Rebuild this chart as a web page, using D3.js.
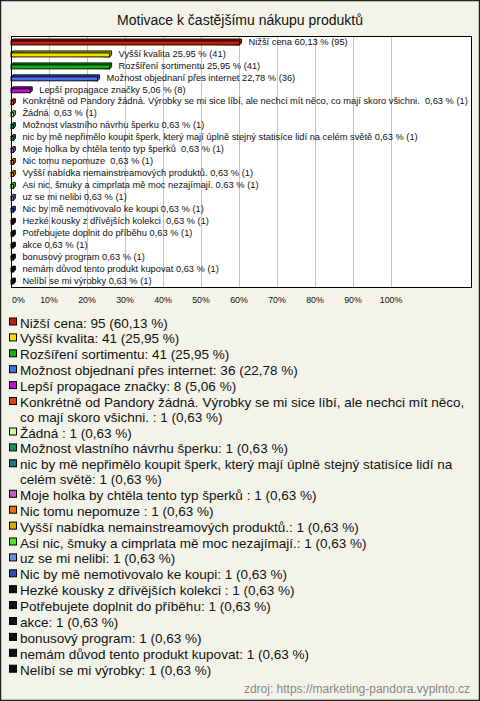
<!DOCTYPE html>
<html>
<head>
<meta charset="utf-8">
<script src="https://cdn.jsdelivr.net/npm/d3@7"></script>
<style>
  body { margin: 0; background: #f4f3ea; }
  text { font-family: "Liberation Sans", Arial, sans-serif; white-space: pre; }
</style>
</head>
<body>
<svg id="chart" width="480" height="701"></svg>
<script>
var categories = [
  "Nižší cena",
  "Vyšší kvalita",
  "Rozšíření sortimentu",
  "Možnost objednaní přes internet",
  "Lepší propagace značky",
  "Konkrétně od Pandory žádná. Výrobky se mi sice líbí, ale nechci mít něco, co mají skoro všichni. ",
  "Žádná ",
  "Možnost vlastního návrhu šperku",
  "nic by mě nepřimělo koupit šperk, který mají úplně stejný statisíce lidí na celém světě",
  "Moje holka by chtěla tento typ šperků ",
  "Nic tomu nepomuze ",
  "Vyšší nabídka nemainstreamových produktů.",
  "Asi nic, šmuky a cimprlata mě moc nezajímají.",
  "uz se mi nelibi",
  "Nic by mě nemotivovalo ke koupi",
  "Hezké kousky z dřívějších kolekci ",
  "Potřebujete doplnit do příběhu",
  "akce",
  "bonusový program",
  "nemám důvod tento produkt kupovat",
  "Nelíbí se mi výrobky"
];
var counts = [95, 41, 41, 36, 8, 1, 1, 1, 1, 1, 1, 1, 1, 1, 1, 1, 1, 1, 1, 1, 1];
var percents = [60.13, 25.95, 25.95, 22.78, 5.06, 0.63, 0.63, 0.63, 0.63, 0.63, 0.63,
                0.63, 0.63, 0.63, 0.63, 0.63, 0.63, 0.63, 0.63, 0.63, 0.63];
var colors = ["#c41e0a", "#f0e000", "#10b010", "#4a6ee8", "#c010d0", "#e04010",
              "#c8f890", "#109060", "#207888", "#c060c0", "#e07010", "#e0a800",
              "#50e030", "#6890e0", "#2850b0", "#111111", "#111111", "#111111",
              "#111111", "#111111", "#111111"];
var ticks = [0, 10, 20, 30, 40, 50, 60, 70, 80, 90, 100];
var title = "Motivace k častějšímu nákupu produktů";
var source = "zdroj: https://marketing-pandora.vyplnto.cz";

var fmt = function(v) { return d3.format(".2f")(v).replace(".", ","); };

var svg = d3.select("#chart");

// background + outer frame
svg.append("rect")
  .attr("x", 0.5).attr("y", 0.5)
  .attr("width", 479).attr("height", 700)
  .attr("fill", "#f4f3ea")
  .attr("stroke", "#222").attr("stroke-width", 1.5);

svg.append("text")
  .attr("x", 240).attr("y", 25)
  .attr("text-anchor", "middle")
  .attr("font-size", 14)
  .attr("fill", "#111")
  .text(title);

var plotTop = 36, plotBottom = 287, plotLeft = 11, plotRight = 471;

var x = d3.scaleLinear().domain([0, 100]).range([plotLeft, 391]);
var y = d3.scaleBand()
  .domain(d3.range(categories.length))
  .range([plotTop, plotBottom]);

svg.append("rect")
  .attr("x", plotLeft).attr("y", plotTop)
  .attr("width", plotRight - plotLeft).attr("height", plotBottom - plotTop)
  .attr("fill", "#fff");

// grid
svg.append("g")
  .selectAll("line")
  .data(ticks.filter(function(t) { return t > 0; }))
  .join("line")
  .attr("x1", function(d) { return x(d) + 0.5; })
  .attr("x2", function(d) { return x(d) + 0.5; })
  .attr("y1", plotTop).attr("y2", plotBottom)
  .attr("stroke", "#c4c4c4");

// tick labels
svg.append("g")
  .selectAll("text")
  .data(ticks)
  .join("text")
  .attr("x", function(d) { return d === 0 ? x(d) + 1 : x(d); })
  .attr("y", 303)
  .attr("text-anchor", function(d) { return d === 0 ? "start" : "middle"; })
  .attr("font-size", 8.8)
  .attr("fill", "#111")
  .text(function(d) { return d + "%"; });

// bars
var rows = categories.map(function(c, i) {
  return { name: c, count: counts[i], pct: percents[i], color: colors[i], i: i };
});

var bars = svg.append("g").selectAll("g")
  .data(rows)
  .join("g");

bars.each(function(d) {
  var g = d3.select(this);
  var c = y(d.i) + y.bandwidth() / 2;
  var x0 = x(0), x1 = x(d.pct);
  var dep = 2, h = 4;
  // depth (top + right side)
  g.append("path")
    .attr("d", "M" + x0 + "," + (c - 1) +
               "L" + (x0 + dep) + "," + (c - 1 - dep) +
               "L" + (x1 + dep) + "," + (c - 1 - dep) +
               "L" + (x1 + dep) + "," + (c - 1 + h - dep) +
               "L" + x1 + "," + (c - 1 + h) + "Z")
    .attr("fill", d3.color(d.color).darker(0.9))
    .attr("stroke", "#000").attr("stroke-width", 0.9);
  g.append("rect")
    .attr("x", x0).attr("y", c - 1)
    .attr("width", x1 - x0).attr("height", h)
    .attr("fill", d.color)
    .attr("stroke", "#000").attr("stroke-width", 0.9);
  g.append("text")
    .attr("x", x1 + 9)
    .attr("y", c - 0.5)
    .attr("dy", "0.35em")
    .attr("font-size", 9.3)
    .attr("fill", "#111")
    .text(d.name + " " + fmt(d.pct) + " % (" + d.count + ")");
});

// plot frame
svg.append("rect")
  .attr("x", plotLeft + 0.5).attr("y", plotTop + 0.5)
  .attr("width", plotRight - plotLeft).attr("height", plotBottom - plotTop)
  .attr("fill", "none")
  .attr("stroke", "#000");

// legend
var legend = svg.append("g");
var ly = 327.5, maxW = 445;
rows.forEach(function(d) {
  var label = d.name + ": " + d.count + " (" + fmt(d.pct) + " %)";
  legend.append("rect")
    .attr("x", 9.5).attr("y", ly - 9.5)
    .attr("width", 7).attr("height", 7)
    .attr("fill", d.color)
    .attr("stroke", "#000");
  var t = legend.append("text")
    .attr("x", 20).attr("y", ly)
    .attr("font-size", 13.5)
    .attr("fill", "#111");
  // wrap words
  var words = label.split(" "), line = [], tspan = t.append("tspan").attr("x", 20).attr("y", ly);
  words.forEach(function(w) {
    line.push(w);
    tspan.text(line.join(" "));
    if (tspan.node().getComputedTextLength() > maxW && line.length > 1) {
      line.pop();
      tspan.text(line.join(" "));
      line = [w];
      ly += 14.6;
      tspan = t.append("tspan").attr("x", 20).attr("y", ly).text(w);
    }
  });
  ly += 15.9;
});

svg.append("text")
  .attr("x", 470).attr("y", 693)
  .attr("text-anchor", "end")
  .attr("font-size", 12)
  .attr("fill", "#888")
  .text(source);
</script>
</body>
</html>
